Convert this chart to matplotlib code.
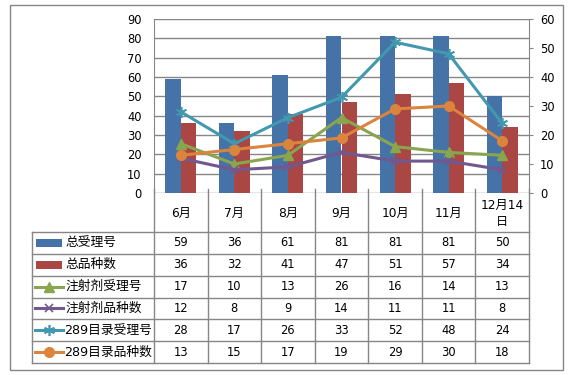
import matplotlib
matplotlib.use("Agg")
import matplotlib.pyplot as plt
from matplotlib.lines import Line2D
from matplotlib.patches import Rectangle
import numpy as np

plt.rcParams['font.family'] = ['DejaVu Sans', 'Noto Sans CJK SC']

categories = ["6月", "7月", "8月", "9月", "10月", "11月", "12月14\n日"]
total_accept = [59, 36, 61, 81, 81, 81, 50]
total_variety = [36, 32, 41, 47, 51, 57, 34]
inj_accept = [17, 10, 13, 26, 16, 14, 13]
inj_variety = [12, 8, 9, 14, 11, 11, 8]
cat289_accept = [28, 17, 26, 33, 52, 48, 24]
cat289_variety = [13, 15, 17, 19, 29, 30, 18]

series_names = ["总受理号", "总品种数", "注射剂受理号", "注射剂品种数", "289目录受理号", "289目录品种数"]

c_blue = "#4572A7"
c_red = "#AA4643"
c_green = "#89A54E"
c_purple = "#71588F"
c_teal = "#4198AF"
c_orange = "#DB843D"
grid_c = "#868686"

W, H = 580, 375
fig = plt.figure(figsize=(W / 100, H / 100), dpi=100)

def fx(x):
    return x / W

def fy(y):
    return 1 - y / H

L, R, T, B = 154, 529, 19, 193
ax = fig.add_axes([fx(L), fy(B), (R - L) / W, (B - T) / H])
n = len(categories)
x = np.arange(n)
bw = 0.29
ax.bar(x - bw / 2, total_accept, bw, color=c_blue, zorder=2)
ax.bar(x + bw / 2, total_variety, bw, color=c_red, zorder=2)
ax.set_xlim(-0.5, n - 0.5)
ax.set_ylim(0, 90)
ax.set_yticks(range(0, 91, 10))
ax.yaxis.grid(True, color=grid_c, linewidth=1)
ax.set_axisbelow(True)
ax.set_xticks([])
for s in ["top", "right", "bottom"]:
    ax.spines[s].set_visible(False)
ax.spines["left"].set_color(grid_c)
ax.tick_params(axis="y", length=0, labelsize=8.3, pad=9)

ax2 = ax.twinx()
ax2.set_ylim(0, 60)
ax2.set_yticks(range(0, 61, 10))
for s in ["top", "left", "bottom"]:
    ax2.spines[s].set_visible(False)
ax2.spines["right"].set_color(grid_c)
ax2.tick_params(axis="y", length=3, color=grid_c, labelsize=8.3, pad=5)
ax2.set_xticks([])

lw = 2.2
line_specs = [
    (inj_accept, c_green, "^", 7, {}),
    (inj_variety, c_purple, "x", 6, {"markeredgewidth": 1.2}),
    (cat289_accept, c_teal, (6, 2, 0), 8, {"markeredgewidth": 1.2}),
    (cat289_variety, c_orange, "o", 7, {}),
]
for vals, col, mk, ms, extra in line_specs:
    ax2.plot(x, vals, color=col, linewidth=lw, marker=mk, markersize=ms,
             markerfacecolor=col, markeredgecolor=col, zorder=3, **extra)

col_w = (R - L) / n
rows = [total_accept, total_variety, inj_accept, inj_variety, cat289_accept, cat289_variety]
header_bottom = 232
row_h = (363 - 232) / 6
table_left = 32
lc = grid_c

def hline(x0, x1, y):
    fig.add_artist(Line2D([fx(x0), fx(x1)], [fy(y), fy(y)], color=lc, linewidth=1))

def vline(xp, y0, y1):
    fig.add_artist(Line2D([fx(xp), fx(xp)], [fy(y0), fy(y1)], color=lc, linewidth=1))

fig.add_artist(Rectangle((fx(10), fy(370)), (563 - 10) / W, (370 - 5) / H,
                         fill=False, edgecolor=grid_c, linewidth=1))

for i in range(7):
    y = header_bottom + i * row_h
    hline(table_left, R, y)
for j in range(n + 1):
    xp = L + j * col_w
    vline(xp, B - 4, 363)
vline(table_left, header_bottom, 363)

for j, cat in enumerate(categories):
    cx = L + (j + 0.5) * col_w
    fig.text(fx(cx), fy((B + header_bottom) / 2 + 1), cat, ha="center", va="center",
             fontsize=8.8, linespacing=1.35)

for i, vals in enumerate(rows):
    cy = header_bottom + (i + 0.5) * row_h
    for j, v in enumerate(vals):
        cx = L + (j + 0.5) * col_w
        fig.text(fx(cx), fy(cy), str(v), ha="center", va="center", fontsize=8.3)

key_colors = [c_blue, c_red, c_green, c_purple, c_teal, c_orange]
for i, name in enumerate(series_names):
    cy = header_bottom + (i + 0.5) * row_h
    if i < 2:
        fig.add_artist(Rectangle((fx(36), fy(cy + 4)), 26 / W, 8 / H,
                                 facecolor=key_colors[i], edgecolor="none"))
        tx = 65
    else:
        vals, col, mk, ms, extra = line_specs[i - 2]
        fig.add_artist(Line2D([fx(35), fx(63)], [fy(cy), fy(cy)], color=col, linewidth=lw))
        fig.add_artist(Line2D([fx(49)], [fy(cy)], color=col, marker=mk, markersize=ms,
                              markerfacecolor=col, markeredgecolor=col, linestyle="none", **extra))
        tx = 65 if not name.startswith("289") else 64
    fig.text(fx(tx), fy(cy), name, ha="left", va="center", fontsize=9.2)

fig.savefig("out.png", dpi=100)
